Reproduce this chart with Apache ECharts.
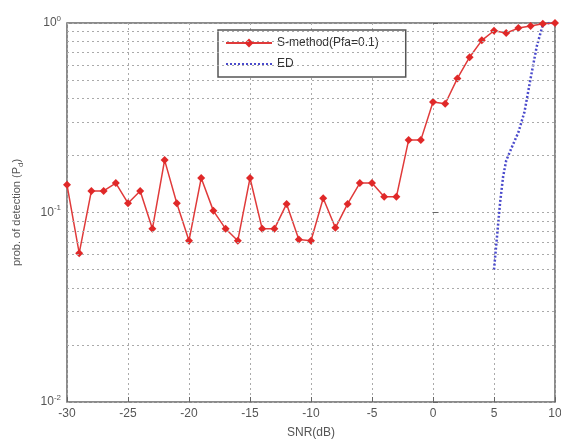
<!DOCTYPE html>
<html>
<head>
<meta charset="utf-8">
<script src="https://cdn.jsdelivr.net/npm/echarts@6/dist/echarts.min.js"></script>
<style>
  html, body { margin: 0; padding: 0; background: #fff; }
  #chart { width: 561px; height: 441px; }
</style>
</head>
<body>
<div id="chart"></div>
<script>
// SNR axis (dB)
const snr = [-30, -29, -28, -27, -26, -25, -24, -23, -22, -21, -20, -19, -18, -17, -16, -15, -14, -13, -12, -11,
  -10, -9, -8, -7, -6, -5, -4, -3, -2, -1, 0, 1, 2, 3, 4, 5, 6, 7, 8, 9, 10]
const sMethod = [0.14, 0.061, 0.13, 0.13, 0.143, 0.112, 0.13, 0.082, 0.189, 0.112, 0.071, 0.152, 0.102, 0.082, 0.071,
  0.152, 0.082, 0.082, 0.111, 0.072, 0.071, 0.119, 0.083, 0.111, 0.143, 0.143, 0.121, 0.121, 0.241, 0.241,
  0.383, 0.375, 0.51, 0.66, 0.81, 0.91, 0.885, 0.94, 0.965, 0.99, 1.0]
const edSnr = [5, 5.25, 5.5, 5.75, 6, 6.5, 7, 7.5, 8, 8.5, 9, 9.5, 10]
const edValues = [0.05, 0.075, 0.113, 0.155, 0.188, 0.224, 0.265, 0.34, 0.51, 0.75, 0.98, 1.0, 1.0]
// minor grid values of the log axis
const minorGrid = [0.02, 0.03, 0.04, 0.05, 0.06, 0.07, 0.08, 0.09, 0.2, 0.3, 0.4, 0.5, 0.6, 0.7, 0.8, 0.9]
const seriesNames = ['S-method(Pfa=0.1)', 'ED']

const chart = echarts.init(document.getElementById('chart'))
const font = 'Liberation Sans, Arial, sans-serif'
const gridLine = { type: [2, 3], color: '#aaa', width: 1 }

const option = {
  backgroundColor: '#fff',
  animation: false,
  textStyle: { fontFamily: font },
  grid: {
    left: 67, right: 6, top: 23, bottom: 39,
    outerBoundsMode: 'none',
    containLabel: false,
    show: true, borderColor: '#666', borderWidth: 1.5, backgroundColor: '#fff'
  },
  legend: {
    data: [
      { name: seriesNames[0] },
      { name: seriesNames[1], itemStyle: { opacity: 0 } }
    ],
    orient: 'vertical',
    left: 218, top: 30,
    padding: [7, 27, 7, 7],
    itemGap: 9,
    itemWidth: 46, itemHeight: 11,
    backgroundColor: '#fff',
    borderColor: '#555', borderWidth: 1.5,
    textStyle: { fontFamily: font, fontSize: 12, color: '#333' }
  },
  xAxis: {
    type: 'value',
    min: -30, max: 10, interval: 5,
    name: 'SNR(dB)',
    nameLocation: 'middle', nameGap: 25,
    nameTextStyle: { fontSize: 12, color: '#555' },
    axisLine: { show: false },
    axisTick: { inside: true, length: 5, lineStyle: { color: '#666' } },
    axisLabel: { fontSize: 12, color: '#555', margin: 6 },
    splitLine: { show: true, lineStyle: gridLine }
  },
  yAxis: {
    type: 'log', logBase: 10,
    min: 0.01, max: 1,
    name: 'prob. of detection (P{sub|d})',
    nameLocation: 'middle', nameGap: 42, nameRotate: 90,
    nameTextStyle: {
      fontSize: 11, color: '#555',
      rich: { sub: { fontSize: 8, color: '#555', padding: [8, 0, 0, 0] } }
    },
    axisLine: { show: false },
    axisTick: { inside: true, length: 5, lineStyle: { color: '#666' } },
    axisLabel: {
      color: '#555', margin: 6,
      formatter: function (v) {
        const e = Math.round(Math.log10(v))
        return '{b|10}{s|' + e + '}'
      },
      rich: {
        b: { fontSize: 12, color: '#555' },
        s: { fontSize: 8, color: '#555', padding: [0, 0, 9, 0] }
      }
    },
    splitLine: { show: true, lineStyle: gridLine }
  },
  series: [
    {
      name: 'minor',
      type: 'line',
      data: [],
      silent: true,
      z: 1,
      markLine: {
        silent: true,
        symbol: 'none',
        label: { show: false },
        lineStyle: gridLine,
        data: minorGrid.map(v => ({ yAxis: v }))
      }
    },
    {
      name: seriesNames[1],
      type: 'line',
      z: 3,
      data: edSnr.map((x, i) => [x, edValues[i]]),
      showSymbol: false,
      symbol: 'none',
      lineStyle: { color: '#4b4bcc', width: 2.5, type: [2, 2] },
      itemStyle: { color: '#4b4bcc' }
    },
    {
      name: seriesNames[0],
      type: 'line',
      z: 4,
      data: snr.map((x, i) => [x, sMethod[i]]),
      symbol: 'diamond',
      symbolSize: 8,
      lineStyle: { color: '#e03a3a', width: 1.5 },
      itemStyle: { color: '#e02828' }
    }
  ]
}
chart.setOption(option)
window.addEventListener('resize', () => {
  chart.resize()
})
</script>
</body>
</html>
